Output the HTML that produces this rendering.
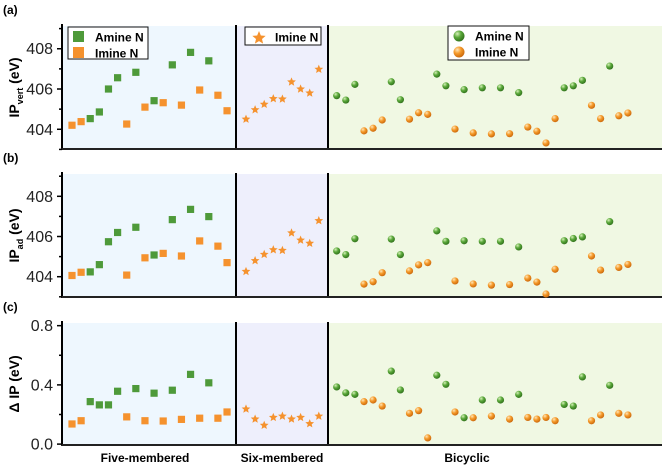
<!DOCTYPE html>
<html><head><meta charset="utf-8">
<style>
body{margin:0;background:#fff;}
svg{display:block;font-family:"Liberation Sans",Arial,sans-serif;}
</style></head>
<body>
<svg id="chart" width="664" height="466" viewBox="0 0 664 466">
<defs>
<radialGradient id="gG" cx="0.35" cy="0.3" r="0.75"><stop offset="0" stop-color="#d6f0b8"/><stop offset="0.45" stop-color="#5aa83a"/><stop offset="1" stop-color="#2e6e1a"/></radialGradient>
<radialGradient id="gO" cx="0.35" cy="0.3" r="0.75"><stop offset="0" stop-color="#ffe6b8"/><stop offset="0.45" stop-color="#f59a2a"/><stop offset="1" stop-color="#c8650a"/></radialGradient>
</defs>
</svg>
<script>
// ---- data ----
const fiveTypes = ['I','I','A','A','A','A','I','A','I','A','I','A','I','A','I','A','I','I'];
const fiveVert = [404.2,404.38,404.53,404.86,406.0,406.56,404.26,406.83,405.1,405.42,405.32,407.2,405.2,407.82,405.95,407.4,405.69,404.92];
const fiveAd = [404.06,404.22,404.24,404.6,405.74,406.2,404.08,406.46,404.94,405.08,405.16,406.84,405.03,407.35,405.78,406.99,405.52,404.7];
const fiveDelta = [0.136,0.158,0.287,0.265,0.265,0.357,0.184,0.375,0.158,0.344,0.156,0.364,0.167,0.471,0.175,0.414,0.175,0.217];
const sixVert = [404.5,404.97,405.24,405.52,405.5,406.35,406.0,405.8,406.98];
const sixAd = [404.26,404.8,405.11,405.34,405.31,406.18,405.82,405.66,406.79];
const sixDelta = [0.237,0.169,0.127,0.18,0.189,0.169,0.18,0.138,0.189];
const biTypes = ['A','A','A','I','I','I','A','A','I','I','I','A','A','I','A','I','A','I','A','I','A','I','I','I','I','A','A','A','I','I','A','I','I'];
const biVert = [405.67,405.45,406.23,403.92,404.05,404.46,406.36,405.47,404.5,404.82,404.74,406.74,406.16,404.01,405.97,403.82,406.06,403.77,406.06,403.78,405.82,404.11,403.9,403.32,404.53,406.06,406.16,406.43,405.19,404.53,407.14,404.67,404.81];
const biAd = [405.28,405.1,405.89,403.63,403.75,404.2,405.87,405.1,404.29,404.59,404.7,406.28,405.76,403.79,405.79,403.64,405.76,403.58,405.76,403.61,405.48,403.93,403.73,403.14,404.37,405.79,405.9,405.98,405.03,404.33,406.74,404.46,404.61];
const biDelta = [0.386,0.346,0.336,0.287,0.298,0.257,0.493,0.366,0.208,0.226,0.042,0.465,0.404,0.217,0.178,0.178,0.298,0.189,0.298,0.169,0.336,0.18,0.169,0.18,0.158,0.268,0.257,0.454,0.158,0.197,0.397,0.208,0.197];
const ipTicks = [404,406,408];
const dTicks = ['0.0','0.4','0.8'];

const NS='http://www.w3.org/2000/svg';
const svg=document.getElementById('chart');
function el(tag,attrs,parent){const e=document.createElementNS(NS,tag);for(const k in attrs)e.setAttribute(k,attrs[k]);(parent||svg).appendChild(e);return e;}

const L=62,R=662,D1=236,D2=328;
const xFive=i=>72+i*9.12;
const xSix=i=>246+i*9.1;
const xBi=i=>336.7+i*9.1;

function star(cx,cy,r){let p=[];for(let k=0;k<10;k++){const a=-Math.PI/2+k*Math.PI/5;const rr=k%2?r*0.45:r;p.push((cx+rr*Math.cos(a)).toFixed(2)+','+(cy+rr*Math.sin(a)).toFixed(2));}return p.join(' ');}

function panel(key,top,bot,dmin,dmax,five,six,bi,ticks,minor,tickLab,label,ylab,sub){
  const y=v=>bot-(v-dmin)/(dmax-dmin)*(bot-top);
  const g=el('g',{});
  
  
  const r1=el('rect',{x:L,y:top,width:D1-L,height:bot-top,fill:'#eef7fe'},g);
  
  const r2=el('rect',{x:D1,y:top,width:D2-D1,height:bot-top,fill:'#eeeffc'},g);
  
  const r3=el('rect',{x:D2,y:top,width:R-D2,height:bot-top,fill:'#f0f8e3'},g);
  
  const dv1=el('line',{x1:D1,x2:D1,y1:top-1,y2:bot,stroke:'#000','stroke-width':2},g);
  
  const dv2=el('line',{x1:D2,x2:D2,y1:top-1,y2:bot,stroke:'#000','stroke-width':2},g);
  
  const ya=el('line',{x1:L,x2:L,y1:top-2,y2:bot+1,stroke:'#000','stroke-width':2},g);
  
  const xa=el('line',{x1:L-1,x2:R,y1:bot,y2:bot,stroke:'#222','stroke-width':2},g);
  
  ticks.forEach((t,i)=>{
    const v=parseFloat(t);
    el('line',{x1:L-5,x2:L,y1:y(v),y2:y(v),stroke:'#000','stroke-width':1.5},g);
    const tx=el('text',{x:L-9,y:y(v)+5.5,'text-anchor':'end','font-size':16,fill:'#222'},g);
    tx.textContent=tickLab[i];
    
  });
  minor.forEach(v=>{el('line',{x1:L-3,x2:L,y1:y(v),y2:y(v),stroke:'#000','stroke-width':1.5},g);});
  const pl=el('text',{x:3,y:top-12,'font-size':12,'font-weight':'bold'},g);
  pl.textContent=label;
  const yl=el('text',{transform:`translate(19,${(top+bot)/2}) rotate(-90)`,'text-anchor':'middle','font-size':14,'font-weight':'bold'},g);
  
  yl.textContent=ylab;
  if(sub){const ts=document.createElementNS(NS,'tspan');ts.setAttribute('font-size',9);ts.setAttribute('dy',4);ts.textContent=sub;yl.appendChild(ts);const t2=document.createElementNS(NS,'tspan');t2.setAttribute('dy',-4);t2.textContent=' (eV)';yl.appendChild(t2);}
  five.forEach((v,i)=>{
    const m=el('rect',{x:xFive(i)-3.6,y:y(v)-3.6,width:7.2,height:7.2,fill:fiveTypes[i]==='A'?'#4e9a3a':'#f5922e'},g);
    
    
  });
  six.forEach((v,i)=>{
    const m=el('polygon',{points:star(xSix(i),y(v),4.6),fill:'#f5922e'},g);
    
    
  });
  bi.forEach((v,i)=>{
    const m=el('circle',{cx:xBi(i),cy:y(v),r:3.6,fill:biTypes[i]==='A'?'url(#gG)':'url(#gO)'},g);
    
    
  });
  return g;
}
panel('a',26,149,403.02,409.13,fiveVert,sixVert,biVert,ipTicks.map(String),[403,405,407,409],ipTicks.map(String),'(a)','IP','vert');
panel('b',174,297,402.99,409.11,fiveAd,sixAd,biAd,ipTicks.map(String),[403,405,407,409],ipTicks.map(String),'(b)','IP','ad');
panel('c',323,445,-0.006,0.818,fiveDelta,sixDelta,biDelta,dTicks,[0.2,0.6],dTicks,'(c)','Δ IP (eV)',null);

function legend(name,x,y,w,h,items){
  const g=el('g',{});
  
  
  el('rect',{x:x,y:y,width:w,height:h,fill:'#fff',stroke:'#111','stroke-width':1},g);
  items.forEach((it,i)=>{
    const cy=y+10+i*16;
    let m;
    if(it.s==='sq')m=el('rect',{x:x+5,y:cy-6,width:11,height:11,fill:it.c},g);
    else if(it.s==='star')m=el('polygon',{points:star(x+14,cy+1,7),fill:it.c},g);
    else m=el('circle',{cx:x+11,cy:cy,r:5.5,fill:it.c},g);
    
    const t=el('text',{x:x+(it.s==='star'?30:27),y:cy+4.5,'font-size':12,'font-weight':'bold'},g);
    t.textContent=it.t;
  });
}
legend('legend-five',68,27,80,32,[{s:'sq',c:'#4e9a3a',t:'Amine N'},{s:'sq',c:'#f5922e',t:'Imine N'}]);
legend('legend-six',245,27,76,18,[{s:'star',c:'#f5922e',t:'Imine N'}]);
legend('legend-bicyclic',448,26,81,34,[{s:'c',c:'url(#gG)',t:'Amine N'},{s:'c',c:'url(#gO)',t:'Imine N'}]);

[['Five-membered',145],['Six-membered',282],['Bicyclic',467]].forEach(c=>{
  const t=el('text',{x:c[1],y:462,'text-anchor':'middle','font-size':12,'font-weight':'bold'});
  t.textContent=c[0];
  
  
});
</script>
</body></html>
